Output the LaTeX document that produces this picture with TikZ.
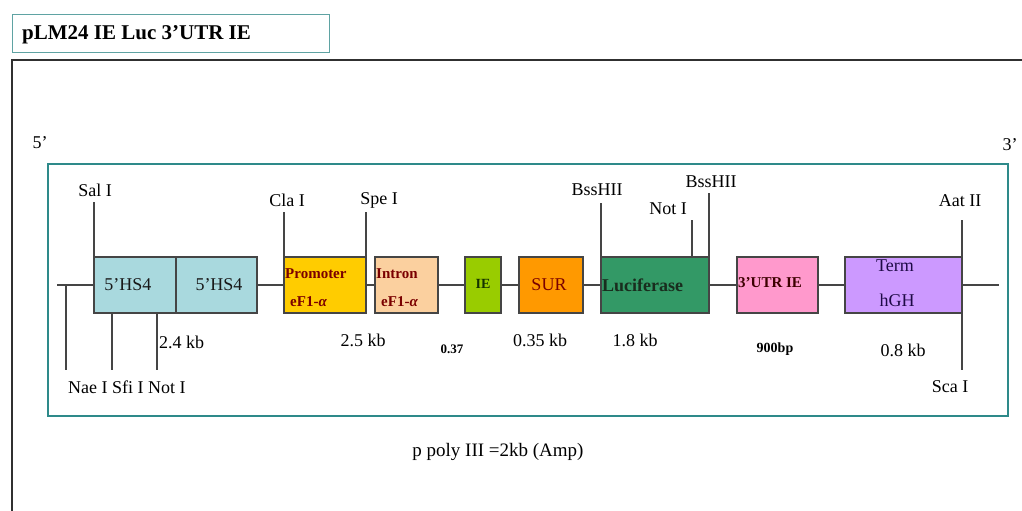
\documentclass[tikz,border=0pt]{standalone}
\usepackage{fontspec}
\setmainfont{Liberation Serif}
\definecolor{wirec}{HTML}{454545}
\definecolor{framec}{HTML}{303030}
\definecolor{tealc}{HTML}{2E8A8A}
\definecolor{titlec}{HTML}{5FA3A3}
\definecolor{hsblue}{HTML}{A9D9DE}
\definecolor{promoc}{HTML}{FFCC00}
\definecolor{intronc}{HTML}{FBD09F}
\definecolor{iec}{HTML}{99CC00}
\definecolor{surc}{HTML}{FF9900}
\definecolor{lucc}{HTML}{339966}
\definecolor{utrc}{HTML}{FF99CC}
\definecolor{termc}{HTML}{CC99FF}
\definecolor{darkred}{HTML}{7A0000}
\begin{document}
\begin{tikzpicture}[x=1pt,y=-1pt,
  wire/.style={draw=wirec,line width=1.3pt},
  gene/.style={draw=wirec,line width=1.3pt,minimum height=56pt,inner sep=0pt,outer sep=0pt,anchor=north west},
  enz/.style={inner sep=0pt,font=\fontsize{18}{20}\selectfont,text=black},
  sizel/.style={inner sep=0pt,font=\fontsize{18}{20}\selectfont,text=black},
  smallb/.style={inner sep=0pt,font=\fontsize{13}{15}\selectfont\bfseries,text=black},
  boxt/.style={inner sep=0pt,font=\fontsize{18}{20}\selectfont},
  boxs/.style={inner sep=0pt,anchor=west,font=\fontsize{15}{17}\selectfont\bfseries}]
\useasboundingbox (0,0) rectangle (1022,511);
% frames
\node[draw=titlec,line width=1pt,minimum width=317pt,minimum height=38pt,anchor=north west,inner sep=0pt] (titlebox) at (12,14) {};
\node[anchor=west,inner sep=0pt,font=\fontsize{21}{23}\selectfont\bfseries] (title) at (22,35) {pLM24 IE Luc 3’UTR IE};
\coordinate (frA) at (12,511);
\coordinate (frB) at (12,60);
\coordinate (frC) at (1022,60);
\draw[draw=framec,line width=1.6pt] (frA) -- (frB) -- (frC);
\node[draw=tealc,line width=2pt,minimum width=960pt,minimum height=252pt,anchor=north west,inner sep=0pt] (inner) at (47,163) {};
\node[enz] (five) at (40,143) {5’};
\node[enz] (three) at (1010,145) {3’};
% gene boxes
\node[gene,fill=hsblue,minimum width=82pt] (hs1) at (94,257) {};
\node[gene,fill=hsblue,minimum width=81pt] (hs2) at (176,257) {};
\node[gene,fill=promoc,minimum width=82pt] (prom) at (284,257) {};
\node[gene,fill=intronc,minimum width=63pt] (intr) at (375,257) {};
\node[gene,fill=iec,minimum width=36pt] (ie) at (465,257) {};
\node[gene,fill=surc,minimum width=64pt] (sur) at (519,257) {};
\node[gene,fill=lucc,minimum width=108pt] (luc) at (601,257) {};
\node[gene,fill=utrc,minimum width=81pt] (utr) at (737,257) {};
\node[gene,fill=termc,minimum width=117pt] (term) at (845,257) {};
% backbone
\coordinate (bbL) at (57,285);
\coordinate (bbR) at (999,285);
\draw[wire] (bbL) -- (hs1.west);
\draw[wire] (hs2.east) -- (prom.west);
\draw[wire] (prom.east) -- (intr.west);
\draw[wire] (intr.east) -- (ie.west);
\draw[wire] (ie.east) -- (sur.west);
\draw[wire] (sur.east) -- (luc.west);
\draw[wire] (luc.east) -- (utr.west);
\draw[wire] (utr.east) -- (term.west);
\draw[wire] (term.east) -- (bbR);
% box texts
\node[boxt,text=black!90] (t1) at (128,285) {5’HS4};
\node[boxt,text=black!90] (t2) at (219,285) {5’HS4};
\node[boxs,text=darkred] (tp1) at (285,274) {Promoter};
\node[boxs,text=darkred] (tp2) at (290,302) {eF1-\textit{α}};
\node[boxs,text=darkred] (ti1) at (376,274) {Intron};
\node[boxs,text=darkred] (ti2) at (381,302) {eF1-\textit{α}};
\node[inner sep=0pt,font=\fontsize{14}{16}\selectfont\bfseries,text={rgb,255:red,20;green,50;blue,0}] (tie) at (483,284) {IE};
\node[boxt,text=darkred] (tsur) at (549,285) {SUR};
\node[inner sep=0pt,anchor=west,font=\fontsize{18}{20}\selectfont\bfseries,text={rgb,255:red,25;green,45;blue,30}] (tluc) at (602,285) {Luciferase};
\node[boxs,text={rgb,255:red,60;green,0;blue,0}] (tutr) at (738,283) {3’UTR IE};
\node[boxt,text={rgb,255:red,30;green,10;blue,70}] (tterm1) at (895,266) {Term};
\node[boxt,text={rgb,255:red,30;green,10;blue,70}] (tterm2) at (897,300) {hGH};
% enzyme sites above
\node[enz] (sal) at (95,190) {Sal I};
\coordinate (salT) at (94,202);
\draw[wire] (salT) -- (hs1.north west);
\node[enz] (cla) at (287,200) {Cla I};
\coordinate (claT) at (284,212);
\draw[wire] (claT) -- (prom.north west);
\node[enz] (spe) at (379,200) {Spe I};
\coordinate (speT) at (366,212);
\draw[wire] (speT) -- (prom.north east);
\node[enz] (bss1) at (597,190) {BssHII};
\coordinate (bss1T) at (601,203);
\draw[wire] (bss1T) -- (luc.north west);
\node[enz] (notT) at (668,209) {Not I};
\coordinate (notTT) at (692,220);
\coordinate (notTB) at (692,257);
\draw[wire] (notTT) -- (notTB);
\node[enz] (bss2) at (711,182) {BssHII};
\coordinate (bss2T) at (709,193);
\draw[wire] (bss2T) -- (luc.north east);
\node[enz] (aat) at (960,201) {Aat II};
\coordinate (aatT) at (962,220);
\coordinate (scaB) at (962,370);
\draw[wire] (aatT) -- (scaB);
\node[enz] (sca) at (950,387) {Sca I};
% enzyme sites below
\coordinate (naeT) at (66,285);
\coordinate (naeB) at (66,370);
\draw[wire] (naeT) -- (naeB);
\coordinate (sfiT) at (112,313);
\coordinate (sfiB) at (112,370);
\draw[wire] (sfiT) -- (sfiB);
\coordinate (notBT) at (157,313);
\coordinate (notBB) at (157,370);
\draw[wire] (notBT) -- (notBB);
\node[enz,anchor=west] (nsn) at (68,387) {Nae I Sfi I Not I};
% sizes
\node[sizel,anchor=west] (s1) at (159,342) {2.4 kb};
\node[sizel] (s2) at (363,340) {2.5 kb};
\node[smallb] (s3) at (452,349) {0.37};
\node[sizel] (s4) at (540,340) {0.35 kb};
\node[sizel] (s5) at (635,340) {1.8 kb};
\node[inner sep=0pt,font=\fontsize{14}{16}\selectfont\bfseries] (s6) at (775,349) {900bp};
\node[sizel] (s7) at (903,350) {0.8 kb};
\node[inner sep=0pt,font=\fontsize{19}{21}\selectfont] (ppoly) at (498,452) {p poly III =2kb (Amp)};
\end{tikzpicture}
\end{document}
